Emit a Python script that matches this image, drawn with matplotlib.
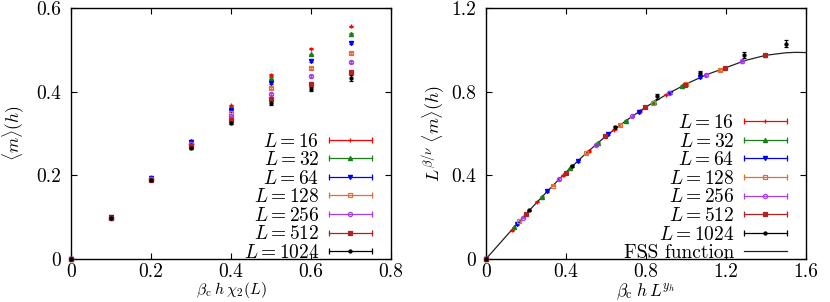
import matplotlib
matplotlib.use("Agg")
import matplotlib.pyplot as plt
from matplotlib.lines import Line2D
from matplotlib.legend_handler import HandlerLine2D

plt.rcParams['font.family'] = 'serif'
plt.rcParams['font.serif'] = ['cmr10']
plt.rcParams['mathtext.fontset'] = 'cm'
plt.rcParams['axes.formatter.use_mathtext'] = True
plt.rcParams['font.size'] = 14

sizes = [16, 32, 64, 128, 256, 512, 1024]
colors = ['#ff0000', '#1a7f1a', '#0000ff', '#e0703a', '#a83cf0', '#b22222', '#000000']
markers = ['+', '^', 'v', 's', 'o', 's', 'o']
filled = [True, True, True, False, False, True, True]

# left panel: beta_c h chi_2(L) vs <m>(h)
hx = [0.0, 0.1, 0.2, 0.3, 0.4, 0.5, 0.6, 0.7]
m_vals = {
    16:   [0.0, 0.100, 0.195, 0.283, 0.367, 0.440, 0.503, 0.556],
    32:   [0.0, 0.100, 0.194, 0.282, 0.362, 0.432, 0.489, 0.539],
    64:   [0.0, 0.100, 0.193, 0.280, 0.357, 0.420, 0.473, 0.516],
    128:  [0.0, 0.099, 0.192, 0.276, 0.349, 0.409, 0.456, 0.493],
    256:  [0.0, 0.099, 0.191, 0.274, 0.341, 0.395, 0.438, 0.471],
    512:  [0.0, 0.099, 0.190, 0.270, 0.333, 0.382, 0.419, 0.446],
    1024: [0.0, 0.099, 0.189, 0.266, 0.326, 0.372, 0.407, 0.432],
}
m_errs = {
    16:   [0, 0.001, 0.001, 0.001, 0.002, 0.002, 0.002, 0.002],
    32:   [0, 0.001, 0.001, 0.001, 0.002, 0.002, 0.002, 0.002],
    64:   [0, 0.001, 0.001, 0.001, 0.002, 0.002, 0.002, 0.003],
    128:  [0, 0.001, 0.001, 0.002, 0.002, 0.002, 0.003, 0.003],
    256:  [0, 0.001, 0.001, 0.002, 0.002, 0.003, 0.003, 0.003],
    512:  [0, 0.001, 0.002, 0.002, 0.003, 0.003, 0.004, 0.004],
    1024: [0, 0.001, 0.002, 0.003, 0.004, 0.005, 0.005, 0.007],
}

# right panel: scaled data
sx = {
    16:   [0.0, 0.128, 0.257, 0.385, 0.513, 0.642, 0.770, 0.900],
    32:   [0.0, 0.140, 0.280, 0.420, 0.560, 0.700, 0.840, 0.980],
    64:   [0.0, 0.153, 0.306, 0.459, 0.612, 0.765, 0.918, 1.071],
    128:  [0.0, 0.167, 0.334, 0.501, 0.668, 0.835, 1.002, 1.169],
    256:  [0.0, 0.183, 0.366, 0.549, 0.732, 0.915, 1.098, 1.281],
    512:  [0.0, 0.199, 0.398, 0.597, 0.796, 0.995, 1.194, 1.393],
    1024: [0.0, 0.214, 0.430, 0.643, 0.857, 1.070, 1.290, 1.500],
}
sy = {
    16:   [0.0, 0.138, 0.273, 0.400, 0.516, 0.619, 0.708, 0.786],
    32:   [0.0, 0.151, 0.297, 0.434, 0.556, 0.661, 0.750, 0.826],
    64:   [0.0, 0.165, 0.323, 0.469, 0.597, 0.704, 0.794, 0.868],
    128:  [0.0, 0.180, 0.351, 0.506, 0.640, 0.747, 0.837, 0.905],
    256:  [0.0, 0.197, 0.382, 0.546, 0.682, 0.793, 0.880, 0.945],
    512:  [0.0, 0.214, 0.413, 0.586, 0.725, 0.834, 0.913, 0.973],
    1024: [0.0, 0.232, 0.445, 0.630, 0.777, 0.888, 0.975, 1.030],
}
sy_err = {
    16:   [0, 0.002, 0.002, 0.002, 0.003, 0.003, 0.003, 0.003],
    32:   [0, 0.002, 0.002, 0.002, 0.003, 0.003, 0.003, 0.004],
    64:   [0, 0.002, 0.002, 0.003, 0.003, 0.004, 0.004, 0.005],
    128:  [0, 0.002, 0.003, 0.003, 0.004, 0.004, 0.005, 0.005],
    256:  [0, 0.002, 0.003, 0.004, 0.004, 0.005, 0.005, 0.006],
    512:  [0, 0.003, 0.003, 0.004, 0.005, 0.006, 0.007, 0.007],
    1024: [0, 0.004, 0.006, 0.008, 0.010, 0.012, 0.015, 0.018],
}

fss_x = [0.0, 0.1, 0.2, 0.3, 0.4, 0.5, 0.6, 0.7, 0.8, 0.9, 1.0, 1.1, 1.2, 1.3, 1.4, 1.5, 1.55, 1.6]
fss_y = [0.0, 0.108, 0.215, 0.317, 0.415, 0.505, 0.588, 0.661, 0.727, 0.785, 0.836, 0.880, 0.915, 0.950, 0.974, 0.986, 0.988, 0.987]

fig = plt.figure(figsize=(8.3, 3.02), dpi=100)
ax1 = fig.add_axes([0.0855, 0.1424, 0.3855, 0.8311])
ax2 = fig.add_axes([0.5855, 0.1424, 0.3855, 0.8311])


def marker_size(mk, fill):
    return 2.2 if (mk == 'o' and fill) else 3


def draw(ax, xs, ys, es):
    handles, labels, hmap = [], [], {}
    for L, col, mk, fill in zip(sizes, colors, markers, filled):
        ms = marker_size(mk, fill)
        ax.errorbar(xs[L], ys[L], yerr=es[L], fmt=mk, color=col, ms=ms,
                    mfc=col if fill else 'none', mec=col, mew=0.9,
                    elinewidth=0.8, capsize=1.5, capthick=0.8, zorder=3, clip_on=False)
        cap = Line2D([], [], color=col, lw=0.9, marker='|', markersize=4, markeredgewidth=0.9)
        pt = Line2D([], [], color=col, lw=0, marker=mk, markersize=ms,
                    markerfacecolor=col if fill else 'none', markeredgecolor=col, markeredgewidth=0.9)
        hmap[cap] = HandlerLine2D(numpoints=2, marker_pad=0)
        hmap[pt] = HandlerLine2D(numpoints=1)
        handles.append((cap, pt))
        labels.append(r'$L = %d$' % L)
    return handles, labels, hmap


h1, l1, m1 = draw(ax1, {L: hx for L in sizes}, m_vals, m_errs)
h2, l2, m2 = draw(ax2, sx, sy, sy_err)
ax2.plot(fss_x, fss_y, color='#222222', lw=0.9, zorder=2)
h2.append(Line2D([], [], color='#222222', lw=0.9))
l2.append('FSS function')

leg_kw = dict(loc='lower right', frameon=False, markerfirst=False, handlelength=2.2,
              handletextpad=0.5, labelspacing=0.03, borderpad=0, borderaxespad=0, fontsize=14)
ax1.legend(h1, l1, handler_map=m1, bbox_to_anchor=(0.94, -0.012), **leg_kw)
ax2.legend(h2, l2, handler_map=m2, bbox_to_anchor=(0.94, -0.012), **leg_kw)

ax1.set_xlim(0, 0.8)
ax1.set_ylim(0, 0.6)
ax1.set_xticks([0, 0.2, 0.4, 0.6, 0.8])
ax1.set_xticklabels(['0', '0.2', '0.4', '0.6', '0.8'])
ax1.set_yticks([0, 0.2, 0.4, 0.6])
ax1.set_yticklabels(['0', '0.2', '0.4', '0.6'])
ax1.set_xlabel(r'$\beta_{\rm c}\; h\, \chi_2(L)$', fontsize=11.5, labelpad=-1)
ax1.set_ylabel(r'$\langle m\rangle(h)$', fontsize=12.5, labelpad=7)

ax2.set_xlim(0, 1.6)
ax2.set_ylim(0, 1.2)
ax2.set_xticks([0, 0.4, 0.8, 1.2, 1.6])
ax2.set_xticklabels(['0', '0.4', '0.8', '1.2', '1.6'])
ax2.set_yticks([0, 0.4, 0.8, 1.2])
ax2.set_yticklabels(['0', '0.4', '0.8', '1.2'])
ax2.set_xlabel(r'$\beta_{\rm c}\; h\, L^{y_h}$', fontsize=12.5, labelpad=0)
ax2.set_ylabel(r'$L^{\beta/\nu}\; \langle m\rangle(h)$', fontsize=13, labelpad=3)

for ax in (ax1, ax2):
    ax.tick_params(direction='in', top=True, right=True, length=4, width=0.8, labelsize=14, pad=3)
    ax.tick_params(axis='y', pad=7)
    for s in ax.spines.values():
        s.set_linewidth(1.0)

fig.savefig('out.png', dpi=100)
